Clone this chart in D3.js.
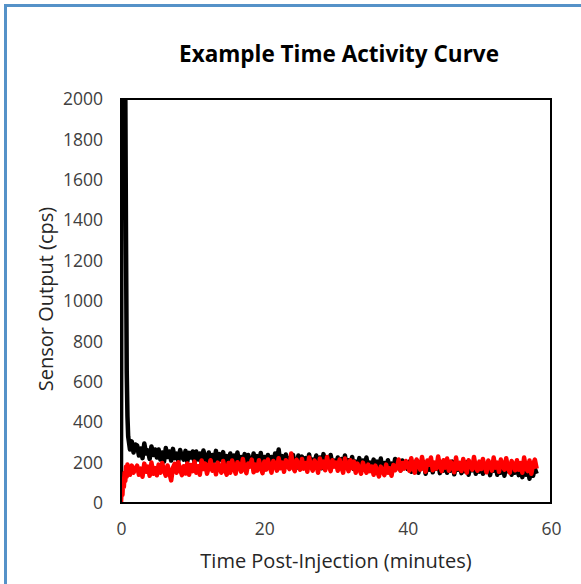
<!DOCTYPE html>
<html>
<head>
<meta charset="utf-8">
<script src="https://cdn.jsdelivr.net/npm/d3@7"></script>
<style>
  body { margin: 0; background: #fff; }
  text { font-family: "Open Sans", sans-serif; }
</style>
</head>
<body>
<div id="chart-area"></div>
<script>
// sample times (minutes): fine sampling over the bolus, then every 15 s
let fineTimes = [0, 0.1, 0.2, 0.3, 0.4, 0.5, 0.6, 0.7, 0.8, 0.9];
let minutes = fineTimes.concat(d3.range(1, 58.001, 0.25));

// black trace (sensor 1)
let blackCounts = [
    120, 2500, 2200, 2600, 2150, 2450, 2050, 1300, 650, 430,
    330, 265, 305, 250, 290,
    285, 235, 270, 222, 295, 245, 260, 218, 280, 238, 265, 225,
    265, 215, 250, 205, 272, 228, 255, 210, 268, 222, 245, 208, 262, 230, 215, 258, 205, 248, 225, 255,
    200, 255, 215, 245, 195, 260, 222, 205, 250, 190, 238, 210, 258, 198, 242, 215, 252, 195, 232, 205,
    245, 190, 235, 205, 250, 185, 228, 200, 242, 192, 238, 210, 185, 245, 202, 232, 188, 248, 198, 228,
    185, 238, 198, 228, 180, 245, 205, 265, 190, 232, 178, 240, 200, 222, 182, 238, 195, 175, 235, 202,
    230, 182, 222, 195, 240, 178, 215, 200, 235, 185, 225, 172, 242, 198, 218, 180, 238, 192, 210, 185,
    225, 178, 218, 190, 235, 172, 212, 185, 228, 168, 205, 180, 222, 165, 210, 185, 225, 170, 200, 178,
    215, 165, 205, 172, 220, 160, 198, 180, 212, 158, 195, 170, 218, 175, 205, 162, 210, 178, 200, 168,
    205, 155, 198, 168, 210, 150, 190, 172, 202, 145, 185, 165, 208, 152, 195, 170, 200, 148, 188, 160,
    200, 150, 192, 160, 205, 142, 185, 165, 198, 148, 180, 158, 202, 140, 190, 162, 195, 145, 185, 155,
    195, 145, 188, 155, 200, 138, 180, 160, 192, 140, 175, 150, 198, 135, 185, 158, 190, 140, 178, 150,
    190, 138, 182, 128, 195, 140, 175, 120, 188, 135, 170, 145
];

// red trace (sensor 2)
let redCounts = [
    0, 90, 40, 120, 80, 150, 110, 180, 130, 190,
    175, 140, 185, 150, 170,
    185, 140, 170, 130, 195, 155, 180, 135, 200, 145, 173, 137,
    190, 150, 198, 160, 135, 186, 148, 112, 175, 194, 150, 202, 165, 138, 182, 146, 196, 140, 188, 158,
    205, 150, 182, 140, 210, 168, 195, 145, 178, 212, 160, 188, 142, 200, 172, 150, 208, 165, 140, 198,
    150, 210, 175, 145, 202, 188, 155, 218, 170, 148, 196, 180, 215, 152, 190, 160, 212, 175, 148, 205,
    165, 215, 180, 150, 208, 195, 160, 222, 172, 200, 155, 212, 185, 168, 245, 178, 158, 214, 190, 165,
    218, 170, 198, 155, 225, 182, 160, 210, 192, 150, 220, 175, 205, 162, 228, 185, 158, 212, 180, 200,
    160, 215, 178, 150, 220, 190, 158, 212, 172, 205, 150, 195, 168, 145, 200, 175, 150, 190, 158, 180,
    140, 185, 155, 132, 180, 160, 138, 190, 150, 172, 135, 188, 162, 175, 215, 160, 198, 170, 208, 185,
    160, 222, 178, 150, 215, 195, 165, 228, 180, 155, 210, 190, 225, 162, 200, 170, 230, 185, 158, 212,
    175, 220, 160, 205, 185, 152, 225, 170, 198, 158, 218, 182, 150, 212, 192, 165, 228, 178, 160, 205,
    168, 218, 180, 152, 210, 192, 160, 225, 175, 200, 155, 215, 185, 165, 222, 172, 150, 208, 190, 162,
    212, 165, 198, 150, 225, 172, 158, 210, 145, 190, 215, 170
];

let xTicks = [0, 20, 40, 60];
let yTicks = [0, 200, 400, 600, 800, 1000, 1200, 1400, 1600, 1800, 2000];

let width = 581;
let height = 584;
let plot = { left: 121, right: 551, top: 99, bottom: 503 };

let svg = d3.select("#chart-area")
    .append("svg")
    .attr("width", width)
    .attr("height", height);

// blue outer frame (only left/top edges visible in the crop)
svg.append("rect")
    .attr("x", 5.5)
    .attr("y", 5.5)
    .attr("width", 700)
    .attr("height", 700)
    .attr("fill", "#fff")
    .attr("stroke", "#5592c8")
    .attr("stroke-width", 3);

let x = d3.scaleLinear()
    .domain([0, 60])
    .range([plot.left, plot.right]);

let y = d3.scaleLinear()
    .domain([0, 2000])
    .range([plot.bottom, plot.top]);

svg.append("clipPath")
    .attr("id", "plot-clip")
    .append("rect")
    .attr("x", plot.left)
    .attr("y", plot.top)
    .attr("width", plot.right - plot.left)
    .attr("height", plot.bottom - plot.top);

let line = d3.line()
    .x(d => x(d[0]))
    .y(d => y(d[1]));

let linesGroup = svg.append("g")
    .attr("clip-path", "url(#plot-clip)");

linesGroup.append("path")
    .datum(minutes.map((t, i) => [t, blackCounts[i]]))
    .attr("fill", "none")
    .attr("stroke", "#000")
    .attr("stroke-width", 4.5)
    .attr("stroke-linejoin", "round")
    .attr("d", line);

linesGroup.append("path")
    .datum(minutes.map((t, i) => [t, redCounts[i]]))
    .attr("fill", "none")
    .attr("stroke", "#ff0000")
    .attr("stroke-width", 4.5)
    .attr("stroke-linejoin", "round")
    .attr("d", line);

// plot frame
svg.append("rect")
    .attr("x", plot.left)
    .attr("y", plot.top)
    .attr("width", plot.right - plot.left)
    .attr("height", plot.bottom - plot.top)
    .attr("fill", "none")
    .attr("stroke", "#000")
    .attr("stroke-width", 2);

// Y axis
let yAxis = d3.axisLeft(y)
    .tickValues(yTicks)
    .tickFormat(d3.format("d"))
    .tickSize(0)
    .tickPadding(18);

svg.append("g")
    .attr("class", "y-axis")
    .attr("transform", "translate(" + plot.left + ",0)")
    .call(yAxis)
    .call(g => g.select(".domain").remove())
    .selectAll("text")
    .attr("font-family", "Open Sans, sans-serif")
    .attr("font-size", 17.5)
    .attr("fill", "#404040");

// X axis
let xAxis = d3.axisBottom(x)
    .tickValues(xTicks)
    .tickSize(0)
    .tickPadding(20);

svg.append("g")
    .attr("class", "x-axis")
    .attr("transform", "translate(0," + plot.bottom + ")")
    .call(xAxis)
    .call(g => g.select(".domain").remove())
    .selectAll("text")
    .attr("font-family", "Open Sans, sans-serif")
    .attr("font-size", 17.5)
    .attr("fill", "#404040");

// chart title
svg.append("text")
    .attr("x", 339)
    .attr("y", 62)
    .attr("text-anchor", "middle")
    .attr("font-size", 22.5)
    .attr("font-weight", "bold")
    .attr("fill", "#000")
    .text("Example Time Activity Curve");

// x-axis label
svg.append("text")
    .attr("x", 336)
    .attr("y", 568)
    .attr("text-anchor", "middle")
    .attr("font-size", 20)
    .attr("fill", "#262626")
    .text("Time Post-Injection (minutes)");

// y-axis label
svg.append("text")
    .attr("transform", "rotate(-90)")
    .attr("x", -299)
    .attr("y", 53)
    .attr("text-anchor", "middle")
    .attr("font-size", 20)
    .attr("fill", "#262626")
    .text("Sensor Output (cps)");
</script>
</body>
</html>
